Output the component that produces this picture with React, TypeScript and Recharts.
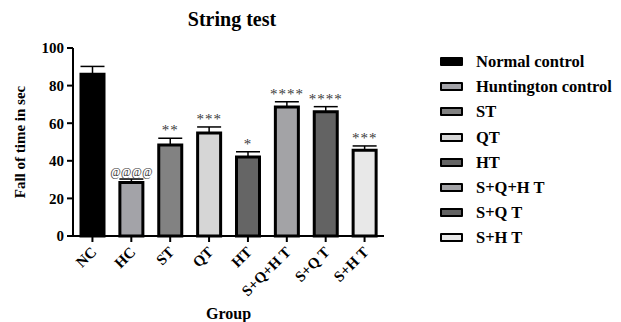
import React from 'react';
import { BarChart, Bar, XAxis, YAxis, Cell, ErrorBar, LabelList, Label } from 'recharts';

const groups = ['NC', 'HC', 'ST', 'QT', 'HT', 'S+Q+H T', 'S+Q T', 'S+H T'];
const legendNames = ['Normal control', 'Huntington control', 'ST', 'QT', 'HT', 'S+Q+H T', 'S+Q T', 'S+H T'];
const means = [86, 28.4, 48.4, 54.8, 42, 68.6, 66.1, 45.6];
const errors = [4.2, 1.9, 3.6, 3.2, 2.8, 2.8, 2.7, 2.3];
const marks = ['', '@@@@', '**', '***', '*', '****', '****', '***'];
const colors = ['#000000', '#a3a3a8', '#828282', '#d6d6d6', '#656565', '#a3a3a6', '#636363', '#e8e8e8'];
const yTicks = [0, 20, 40, 60, 80, 100];

const data = groups.map((g, i) => ({ group: g, mean: means[i], err: [0, errors[i]], mark: marks[i] }));

const FONT = 'Liberation Serif, Tinos, DejaVu Serif, serif';

const XTick = (props: any) => {
  const { x, y, payload } = props;
  const ax = x + 5;
  const ay = y + 9;
  return (
    <text x={ax} y={ay} transform={`rotate(-45 ${ax} ${ay})`} textAnchor="end" fontFamily={FONT} fontWeight="bold" fontSize={15} fill="#000">
      {payload.value}
    </text>
  );
};

const MarkLabel = (props: any) => {
  const { x, y, width, height, value, index } = props;
  if (!value) return null;
  const errPx = means[index] ? (errors[index] * height) / means[index] : 0;
  const isAt = String(value).includes('@');
  return (
    <text
      x={x + width / 2}
      y={y - errPx - 3}
      textAnchor="middle"
      fontFamily={FONT}
      fontSize={isAt ? 11.5 : 15}
      letterSpacing={isAt ? 0 : 1}
      fill="#3a3a3a"
    >
      {value}
    </text>
  );
};

const YLabel = (props: any) => {
  const { viewBox } = props;
  const cx = 20;
  const cy = viewBox.y + viewBox.height / 2;
  return (
    <text x={cx} y={cy} transform={`rotate(-90 ${cx} ${cy})`} textAnchor="middle" dominantBaseline="central" fontFamily={FONT} fontWeight="bold" fontSize={15} fill="#000">
      Fall of time in sec
    </text>
  );
};

export default function App() {
  return (
    <div style={{ position: 'absolute', left: 0, top: 0, width: 621, height: 322, background: '#fff' }}>
      <div style={{ position: 'absolute', left: 0, top: 9, width: 464, textAlign: 'center', fontFamily: FONT, fontWeight: 'bold', fontSize: 20, lineHeight: '20px', color: '#000' }}>
        String test
      </div>
      <BarChart width={621} height={322} data={data} margin={{ top: 48, right: 237, left: 0, bottom: 0 }} barSize={23}>
        <YAxis
          width={73}
          domain={[0, 100]}
          ticks={yTicks}
          interval={0}
          axisLine={{ stroke: '#000', strokeWidth: 2 }}
          tickLine={{ stroke: '#000', strokeWidth: 2 }}
          tickSize={6}
          tickMargin={3}
          tick={{ fontFamily: FONT, fontWeight: 'bold', fontSize: 15, fill: '#000' }}
        >
          <Label content={<YLabel />} />
        </YAxis>
        <XAxis
          dataKey="group"
          height={86}
          interval={0}
          axisLine={{ stroke: '#000', strokeWidth: 2 }}
          tickLine={{ stroke: '#000', strokeWidth: 2 }}
          tickSize={6}
          tick={<XTick />}
        >
          <Label value="Group" position="insideBottom" offset={3} style={{ fontFamily: FONT, fontWeight: 'bold', fontSize: 16, fill: '#000' }} />
        </XAxis>
        <Bar dataKey="mean" stroke="#000" strokeWidth={3} isAnimationActive={false}>
          {data.map((d, i) => (
            <Cell key={d.group} fill={colors[i]} />
          ))}
          <ErrorBar dataKey="err" width={12} stroke="#000" strokeWidth={1.5} direction="y" />
          <LabelList dataKey="mark" content={<MarkLabel />} />
        </Bar>
      </BarChart>
      <div style={{ position: 'absolute', left: 440, top: 49, fontFamily: FONT, fontWeight: 'bold', fontSize: 16.5, color: '#000' }}>
        {legendNames.map((n, i) => (
          <div key={n} style={{ display: 'flex', alignItems: 'center', height: 25.2 }}>
            <span style={{ display: 'inline-block', width: 19, height: 5, border: '2px solid #000', borderRadius: 1, background: colors[i], marginRight: 13 }} />
            <span style={{ lineHeight: '17px' }}>{n}</span>
          </div>
        ))}
      </div>
    </div>
  );
}
